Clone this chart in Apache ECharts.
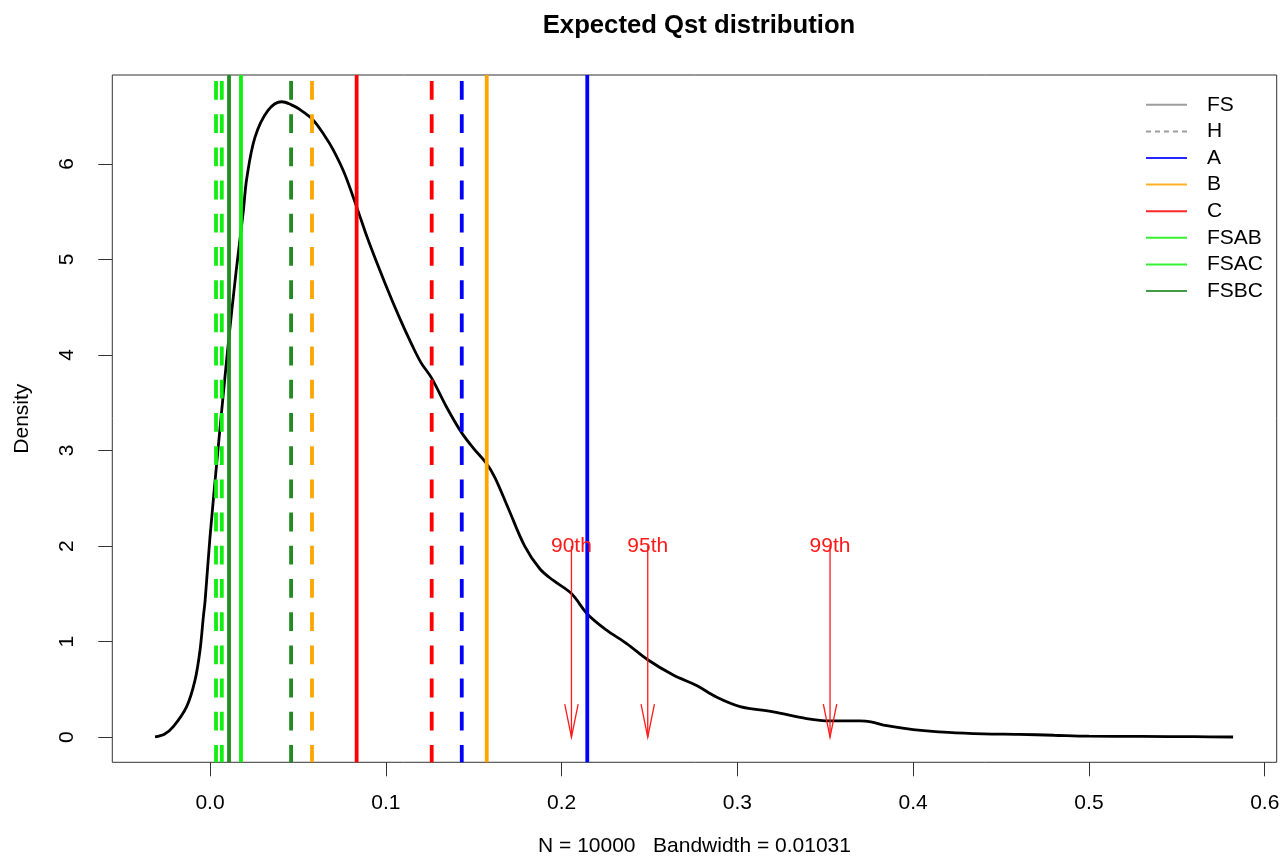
<!DOCTYPE html>
<html>
<head>
<meta charset="utf-8">
<script src="https://cdn.jsdelivr.net/npm/echarts@6/dist/echarts.min.js"></script>
<style>
  html, body { margin: 0; padding: 0; background: #ffffff; }
  #chart { width: 1288px; height: 867px; }
</style>
</head>
<body>
<div id="chart"></div>
<script>
// ---- data ----
const titleText = 'Expected Qst distribution';
const xAxisTitle = 'N = 10000   Bandwidth = 0.01031';
const yAxisTitle = 'Density';
const xTicks = [0, 0.1, 0.2, 0.3, 0.4, 0.5, 0.6];
const yTicks = [0, 1, 2, 3, 4, 5, 6];
const xRange = [-0.0556, 0.6068];
const yRange = [-0.263, 6.93];

const densX = [-0.0313, -0.026, -0.0209, -0.0133, -0.0085, -0.0057, -0.0038, -0.0028, 0, 0.005, 0.01, 0.015, 0.0189, 0.0209, 0.0256, 0.033, 0.0408, 0.046, 0.051, 0.0586, 0.065, 0.07, 0.0765, 0.0834, 0.09, 0.1, 0.108, 0.115, 0.12, 0.126, 0.135, 0.143, 0.15, 0.157, 0.162, 0.17, 0.179, 0.1877, 0.1953, 0.2057, 0.2146, 0.2256, 0.237, 0.249, 0.2635, 0.2768, 0.288, 0.3015, 0.3204, 0.3394, 0.3527, 0.3697, 0.376, 0.385, 0.4, 0.42, 0.44, 0.46, 0.48, 0.5, 0.53, 0.56, 0.582];
const densY = [0.003, 0.03, 0.11, 0.32, 0.60, 0.91, 1.26, 1.43, 2.1, 3.1, 4.05, 4.9, 5.5, 5.85, 6.28, 6.56, 6.65, 6.62, 6.57, 6.46, 6.3, 6.15, 5.9, 5.55, 5.2, 4.73, 4.38, 4.1, 3.92, 3.76, 3.44, 3.19, 3.02, 2.87, 2.72, 2.38, 2.0, 1.76, 1.64, 1.5, 1.29, 1.12, 0.98, 0.81, 0.65, 0.54, 0.42, 0.32, 0.265, 0.195, 0.17, 0.17, 0.16, 0.12, 0.08, 0.05, 0.035, 0.03, 0.02, 0.01, 0.008, 0.005, 0.002];

// vertical reference lines: "<group> <kind>"
const vlineNames = ['FSAB H', 'FSAC H', 'FSBC FS', 'FSAB FS', 'FSBC H', 'B H', 'C FS', 'C H', 'A H', 'B FS', 'A FS'];
const vlineX = [0.0034, 0.0067, 0.0108, 0.0176, 0.0461, 0.0580, 0.0834, 0.1261, 0.1432, 0.1574, 0.2146];

// percentile arrows
const pctLabels = ['90th', '95th', '99th'];
const pctX = [0.2056, 0.249, 0.3527];
const pctFrom = 2;
const pctTo = 0;

const legendNames = ['FS', 'H', 'A', 'B', 'C', 'FSAB', 'FSAC', 'FSBC'];

// ---- styles ----
const FONT = '"Liberation Sans", Arial, Helvetica, sans-serif';
const groupColor = { FS: '#8c8c8c', H: '#8c8c8c', A: '#0000ff', B: '#ffa500', C: '#ff0000', FSAB: '#11ee11', FSAC: '#11ee11', FSBC: '#228b22' };
const dashPattern = [18.8, 14.4];
const RED = '#ff1a1a';

const series = [];

// density curve
series.push({
  name: 'density', type: 'line', data: densX.map((x, i) => [x, densY[i]]),
  showSymbol: false, symbol: 'none', smooth: 0.35,
  lineStyle: { color: '#000000', width: 2.8 }, z: 2, silent: true
});

// vertical lines
vlineNames.forEach((nm, i) => {
  const parts = nm.split(' ');
  const dashed = parts[1] === 'H';
  series.push({
    name: nm, type: 'line', data: [[vlineX[i], yRange[0]], [vlineX[i], yRange[1]]],
    showSymbol: false, symbol: 'none',
    lineStyle: { color: groupColor[parts[0]], width: 3.8, type: dashed ? dashPattern : 'solid', dashOffset: 1.5, cap: 'butt' },
    z: 3, silent: true
  });
});

// legend-only series
legendNames.forEach(nm => {
  series.push({
    name: nm, type: 'line', data: [], showSymbol: false, symbol: 'none',
    lineStyle: { color: groupColor[nm], width: 2, opacity: 0.85, type: nm === 'H' ? [5, 4] : 'solid' },
    itemStyle: { color: groupColor[nm], opacity: 0 }
  });
});

// percentile arrows
series.push({
  name: 'percentiles', type: 'custom', silent: true, z: 5,
  data: pctX.map(x => [x, pctFrom, pctTo]),
  encode: { x: 0, y: [1, 2] },
  renderItem: function (params, api) {
    const x = api.value(0);
    const p0 = api.coord([x, api.value(1)]);
    const p1 = api.coord([x, api.value(2)]);
    const hl = 33, hw = 6.7;
    return {
      type: 'group',
      children: [
        { type: 'line', shape: { x1: p0[0], y1: p0[1], x2: p1[0], y2: p1[1] }, style: { stroke: RED, lineWidth: 1.3 } },
        { type: 'polyline', shape: { points: [[p1[0] - hw, p1[1] - hl], [p1[0], p1[1]], [p1[0] + hw, p1[1] - hl]] }, style: { stroke: RED, lineWidth: 1.3, fill: null } },
        { type: 'text', x: p0[0], y: p0[1], style: { text: pctLabels[params.dataIndex], fill: RED, font: '21px ' + FONT, align: 'center', verticalAlign: 'middle' } }
      ]
    };
  }
});

const chart = echarts.init(document.getElementById('chart'), null, { renderer: 'canvas' });
chart.setOption({
  animation: false,
  backgroundColor: '#ffffff',
  title: {
    text: titleText, left: 694, top: 8, textAlign: 'center',
    textStyle: { fontFamily: FONT, fontSize: 25.7, fontWeight: 'bold', color: '#000000' }
  },
  legend: {
    data: legendNames, orient: 'vertical', left: 1145, top: 91.5, padding: 0,
    itemWidth: 41, itemHeight: 14, itemGap: 0,
    itemStyle: { opacity: 0 },
    textStyle: { fontFamily: FONT, fontSize: 21, color: '#000000', lineHeight: 26.6, padding: [0, 0, 0, 15] },
    selectedMode: false
  },
  grid: {
    left: 112.3, right: 1288 - 1276.7, top: 75, bottom: 867 - 762.3,
    show: true, borderColor: '#333333', borderWidth: 1, backgroundColor: 'transparent', containLabel: false
  },
  xAxis: {
    type: 'value', min: xRange[0], max: xRange[1],
    name: xAxisTitle, nameLocation: 'middle', nameGap: 73.5,
    nameTextStyle: { fontFamily: FONT, fontSize: 21, color: '#000000', verticalAlign: 'top' },
    splitLine: { show: false }, axisLine: { show: false, onZero: false },
    axisTick: { show: true, inside: false, length: 14, customValues: xTicks, lineStyle: { color: '#333333', width: 1 } },
    axisLabel: { customValues: xTicks, formatter: v => v.toFixed(1), margin: 30.5, fontFamily: FONT, fontSize: 21, color: '#000000', verticalAlign: 'top' }
  },
  yAxis: {
    type: 'value', min: yRange[0], max: yRange[1],
    name: yAxisTitle, nameLocation: 'middle', nameGap: 79.5, nameRotate: 90,
    nameTextStyle: { fontFamily: FONT, fontSize: 21, color: '#000000', verticalAlign: 'bottom', align: 'center' },
    splitLine: { show: false }, axisLine: { show: false, onZero: false },
    axisTick: { show: true, inside: false, length: 14, customValues: yTicks, lineStyle: { color: '#333333', width: 1 } },
    axisLabel: { customValues: yTicks, formatter: v => String(v), rotate: 90, margin: 35, fontFamily: FONT, fontSize: 21, color: '#000000', verticalAlign: 'bottom', align: 'center' }
  },
  series: series
});
</script>
</body>
</html>
